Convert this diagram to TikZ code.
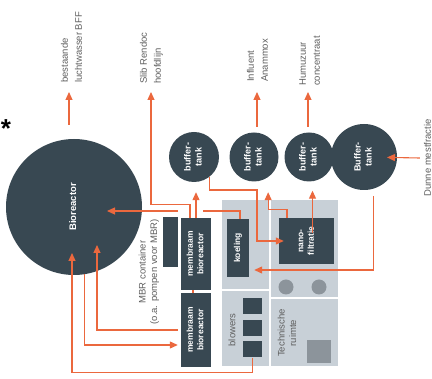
\documentclass[tikz,border=0pt]{standalone}
\usepackage{fontspec}
\setmainfont{Liberation Sans}
\usetikzlibrary{arrows.meta,calc}

\definecolor{tankgrey}{RGB}{56,72,82}
\definecolor{pipe}{RGB}{235,104,62}
\definecolor{hall}{RGB}{200,208,215}
\definecolor{midgrey}{RGB}{140,148,155}
\definecolor{notegrey}{RGB}{95,95,95}

\newcommand{\vtext}[2][c]{\rotatebox{90}{\begin{tabular}{@{}#1@{}}#2\end{tabular}}}

\begin{document}
\begin{tikzpicture}[x=1pt, y=-1pt,
  tank/.style={circle, fill=tankgrey, text=white, inner sep=0pt, font=\fontsize{9}{11}\selectfont\bfseries},
  unit/.style={rectangle, fill=tankgrey, text=white, inner sep=0pt, font=\fontsize{8.5}{10.5}\selectfont\bfseries},
  note/.style={text=notegrey, inner sep=1pt, font=\fontsize{9.5}{11.5}\selectfont},
  outtext/.style={text=notegrey, inner sep=1pt, font=\fontsize{9.5}{14}\selectfont},
  pipeline/.style={draw=pipe, line width=1.1pt},
  flow/.style={pipeline, -{Triangle[length=8pt,width=7pt]}}]

\useasboundingbox (0,0) rectangle (432,379);

\fill[hall] (222,200) rectangle (338,366);
\draw[white, line width=1.5pt] (270,200) -- (270,366);
\draw[white, line width=1.5pt] (222,290) -- (270,290);
\draw[white, line width=1.5pt] (270,298) -- (338,298);
\fill[midgrey] (286,287) circle [radius=7.5];
\fill[midgrey] (319,287) circle [radius=7.5];
\fill[midgrey] (307,340) rectangle (331,363);

\node[tank, minimum size=136pt, font=\fontsize{9.5}{11}\selectfont\bfseries] (bioreactor) at (74,207) {\vtext{Bioreactor}};
\node[tank, minimum size=50pt] (buf1) at (194,157) {\vtext{buffer-\\tank}};
\node[tank, minimum size=49pt] (buf2) at (254,157) {\vtext{buffer-\\tank}};
\node[tank, minimum size=49pt] (buf3) at (309,157) {\vtext{buffer-\\tank}};
\node[tank, minimum size=66pt] (buf4) at (364,157) {\vtext{Buffer-\\tank}};

\node[unit, minimum width=15pt, minimum height=50pt] (pomp) at (170.5,242) {};
\node[unit, minimum width=30pt, minimum height=72pt] (mbr1) at (196,254) {\vtext{membraam\\bioreactor}};
\node[unit, minimum width=30pt, minimum height=74pt] (mbr2) at (196,330) {\vtext{membraam\\bioreactor}};
\node[unit, minimum width=22pt, minimum height=58pt] (koeling) at (238,248) {\vtext{koeling}};
\node[unit, minimum width=55pt, minimum height=46pt] (nano) at (306.5,241) {\vtext{nano-\\filtratie}};
\node[unit, minimum width=19pt, minimum height=16pt] (blow1) at (252.5,306) {};
\node[unit, minimum width=19pt, minimum height=16pt] (blow2) at (252.5,328) {};
\node[unit, minimum width=19pt, minimum height=16pt] (blow3) at (252.5,349.5) {};

\node[note] (mbrtext) at (149,272) {\vtext{MBR container\\(o.a. pompen voor MBR)}};
\node[note] (blowtext) at (233,330) {\vtext{blowers}};
\node[note] (techtext) at (288,333) {\vtext{Technische\\ruimte}};

\node[outtext, anchor=south] (lucht) at (72,84) {\vtext[l]{bestaande\\luchtwasser BFF}};
\node[outtext, anchor=south] (slib) at (151,85) {\vtext[l]{Slib Rendoc\\hoofdlijn}};
\node[outtext, anchor=south] (anammox) at (258,83) {\vtext[l]{Influent\\Anammox}};
\node[outtext, anchor=south] (humuzuur) at (310,87) {\vtext[l]{Humuzuur\\concentraat}};
\node[outtext] (dunne) at (428,158) {\vtext{Dunne mestfractie}};
\node[anchor=base, font=\fontsize{26}{26}\selectfont\bfseries] (star) at (6,138) {*};

\coordinate (lw) at (69,125);
\coordinate (anin) at (257,127);
\coordinate (huin) at (308,127);
\draw[flow, shorten >=8pt] (lw) -- (lw |- lucht.south);
\draw[flow, shorten >=9pt] (anin) -- (anin |- anammox.south);
\draw[flow, shorten >=5pt] (huin) -- (huin |- humuzuur.south);

\draw[flow, shorten >=7pt] ([xshift=-6pt]mbr1.north) -- ++(0,-13) -| (slib.south);
\draw[flow, shorten >=10pt] (mbr1.north) -- (mbr1.north |- buf1.south);
\draw[pipeline] ([xshift=-3pt]mbr1.south) -- ([xshift=-3pt]mbr2.north);

\draw[flow] (buf1.-53) |- (257,190) |- ([xshift=5pt]nano.west);
\draw[flow, shorten >=15pt] ([xshift=-19.5pt]nano.north) |- ([yshift=-32pt]buf2.-55) -- (buf2.-55);
\coordinate (nanoout) at ([shift={(6pt,8pt)}]nano.center);
\draw[flow, shorten >=9pt] (nanoout) -- (nanoout |- buf3.south);

\draw[flow, shorten >=23pt] (dunne.west) -- (buf4.center);
\draw[flow, shorten <=7pt] (buf4.-74) |- ([shift={(5pt,-22pt)}]koeling.east);

\coordinate (gapR) at (203,211);
\coordinate (gapL) at (178,211);
\draw[pipeline] ([xshift=2pt]koeling.north) |- (gapR);
\draw[flow, shorten >=33pt] (gapL) -- (gapL -| bioreactor.center);

\draw[flow] ([xshift=-3pt]mbr2.west) -| ($(bioreactor.center)+(23,38)$);
\draw[flow] (bioreactor.-81) |- ([shift={(-3pt,-15pt)}]mbr2.west);
\draw[flow] (blow3.south) -- ++(0,15) -| ($(bioreactor.center)+(-2,46)$);

\end{tikzpicture}
\end{document}
